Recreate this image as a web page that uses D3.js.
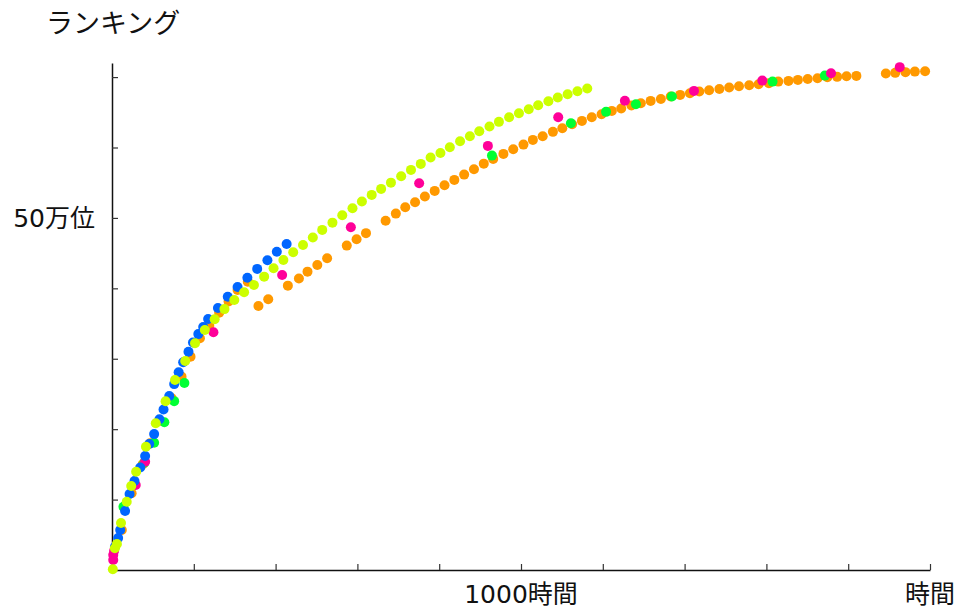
<!DOCTYPE html>
<html><head><meta charset="utf-8">
<script src="https://cdn.jsdelivr.net/npm/d3@7"></script>
<style>
html,body{margin:0;padding:0;background:#fff;}
svg{display:block;}
text{font-family:"DejaVu Sans","Noto Sans CJK JP",sans-serif;fill:#111;}
</style></head>
<body>
<svg id="chart" width="960" height="610"></svg>
<script>
// hours played, ranking (in 万位)
const orange = [[24,5.68],[48,10.9],[75,15.0],[93,18.0],[117,21.2],[146,24.4],[170,27.46],[192,30.3],[215,32.9],[238,34.66],[262,36.55],[285,38.14],[307,39.77],[332,40.95],
[358,37.5],[382,38.45],[430,40.38],[457,41.39],[478,42.37],[502,43.32],[526,44.28],[574,46.07],[598,46.98],[621,47.84],[669,49.6],[694,50.61],[717,51.52],[741,52.23],[765,53.03],[789,53.84],[813,54.64],[837,55.4],[861,56.15],[885,56.92],[909,57.71],[932,58.38],[957,59.09],[981,59.76],[1006,60.41],[1029,61.08],[1053,61.6],[1078,62.22],[1101,62.74],[1125,63.31],[1149,63.78],[1173,64.3],[1197,64.73],[1222,65.2],[1245,65.54],[1270,65.97],[1293,66.29],[1317,66.62],[1342,66.9],[1366,67.23],[1389,67.47],[1413,67.71],[1436,67.94],[1460,68.14],[1485,68.32],[1509,68.51],[1533,68.71],[1558,68.85],[1581,68.99],[1606,69.13],[1629,69.36],[1654,69.46],[1677,69.6],[1701,69.74],[1725,69.84],[1749,69.99],[1773,70.03],[1796,70.13],[1820,70.17],[1892,70.5],[1915,70.6],[1940,70.7],[1963,70.78],[1988,70.84]];
const green = [[28,8.99],[79,15.24],[103,18.08],[128,20.98],[152,23.98],[177,26.56],[929,58.85],[1122,63.45],[1208,65.06],[1281,66.15],[1369,67.23],[1615,69.36],[1743,70.21]];
const pink = [[3,1.42],[3,2.13],[5,2.7],[58,12.07],[81,15.38],[248,33.76],[416,41.9],[584,48.68],[751,54.93],[919,60.23],[1091,64.3],[1254,66.65],[1423,68.04],[1590,69.5],[1758,70.55],[1926,71.41]];
const blue = [[7,3.27],[15,4.55],[20,5.68],[32,8.38],[43,10.8],[55,12.64],[69,14.56],[81,16.19],[91,17.9],[103,19.3],[116,21.4],[126,22.8],[140,24.7],[152,26.4],[163,28.08],[174,29.5],[187,31.0],[198,32.3],[211,33.5],[223,34.5],[235,35.65],[259,37.2],[283,38.8],[307,40.2],[331,41.5],[355,42.76],[380,44.0],[403,45.2],[427,46.3]];
const yellow = [[2,0.1],[7,3.08],[12,3.69],[22,6.68],[36,9.7],[47,11.93],[59,13.96],[83,17.51],[107,20.84],[131,23.96],[154,26.99],[179,29.69],[203,32.2],[227,34.09],[251,35.61],[275,37.05],[299,38.35],[323,39.45],[347,40.48],[372,41.66],[395,42.86],[419,44.03],[443,45.13],[467,46.16],[491,47.23],[514,48.3],[539,49.33],[563,50.38],[588,51.38],[611,52.32],[635,53.27],[658,54.12],[682,55.01],[707,55.92],[731,56.82],[755,57.67],[779,58.57],[803,59.23],[826,60.04],[851,60.9],[875,61.6],[898,62.32],[923,62.97],[946,63.64],[971,64.3],[995,64.87],[1019,65.44],[1042,66.01],[1067,66.58],[1090,67.09],[1114,67.57],[1138,68.0],[1162,68.37]];

const xTicks = [0,200,400,600,800,1000,1200,1400,1600,1800,2000];
const xTickLabels = {1000:"1000時間", 2000:"時間"};
const yTicks = [0,10,20,30,40,50,60,70];
const yTickLabels = {50:"50万位"};
const title = "ランキング";

const series = [
  {data: orange, color: "#FF9900"},
  {data: green,  color: "#00FF33"},
  {data: pink,   color: "#FF0099"},
  {data: blue,   color: "#0066FF"},
  {data: yellow, color: "#CCFF00"}
];

const svg = d3.select("#chart");
const x = d3.scaleLinear().domain([0,2000]).range([112,930]);
const y = d3.scaleLinear().domain([0,72]).range([570,63]);

// axes
const xAxis = d3.axisBottom(x).tickValues(xTicks).tickSizeInner(-6).tickSizeOuter(0).tickFormat("");
const gx = svg.append("g").attr("transform","translate(0,570)").call(xAxis);
const yAxis = d3.axisLeft(y).tickValues(yTicks).tickSizeInner(-6).tickSizeOuter(0).tickFormat("");
const gy = svg.append("g").attr("transform","translate(112,0)").call(yAxis);
[gx,gy].forEach(g=>{
  g.select(".domain").attr("stroke","#111").attr("stroke-width",1.5);
  g.selectAll(".tick line").attr("stroke","#333").attr("stroke-width",1.2);
});

// tick labels
svg.selectAll(".xlab").data(xTicks.filter(d=>xTickLabels[d])).enter().append("text")
  .attr("x",d=>x(d)).attr("y",603).attr("text-anchor","middle")
  .style("font-size","25px").text(d=>xTickLabels[d]);
svg.selectAll(".ylab").data(yTicks.filter(d=>yTickLabels[d])).enter().append("text")
  .attr("x",95).attr("y",d=>y(d)).attr("dy","0.35em").attr("text-anchor","end")
  .style("font-size","25px").text(d=>yTickLabels[d]);
svg.append("text").attr("x",46).attr("y",33).style("font-size","27px").text(title);

// points
series.forEach(s=>{
  svg.append("g").selectAll("circle").data(s.data).enter().append("circle")
    .attr("cx",d=>x(d[0])).attr("cy",d=>y(d[1])).attr("r",5).attr("fill",s.color);
});
</script>
</body></html>
